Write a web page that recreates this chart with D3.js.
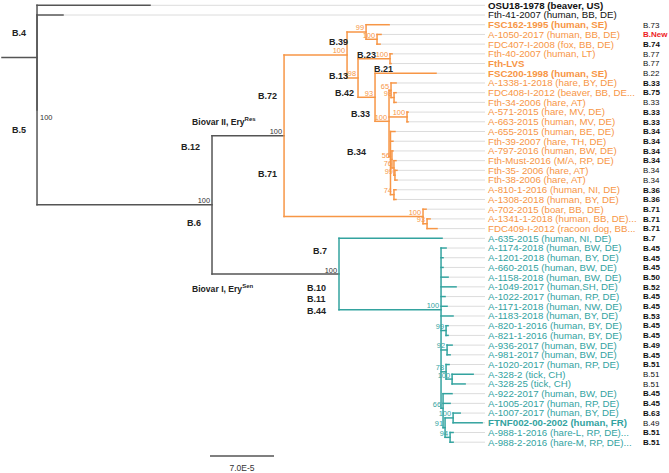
<!DOCTYPE html>
<html><head><meta charset="utf-8">
<script src="https://cdn.jsdelivr.net/npm/d3@7"></script>
<style>body{margin:0;background:#fff}svg{display:block;font-family:"Liberation Sans",Arial,sans-serif}</style>
</head><body><svg id="chart" width="669" height="473"></svg>
<script>
// ---------------- DATA ----------------
const leafNames = [
 "OSU18-1978 (beaver, US)","Fth-41-2007 (human, BB, DE)","FSC162-1995 (human, SE)","A-1050-2017  (human, BB, DE)",
 "FDC407-I-2008 (fox, BB, DE)","Fth-40-2007 (human, LT)","Fth-LVS","FSC200-1998 (human, SE)",
 "A-1338-1-2018 (hare, BY, DE)","FDC408-I-2012 (beaver, BB, DE...","Fth-34-2006 (hare, AT)","A-571-2015 (hare, MV, DE)",
 "A-663-2015 (human, MV, DE)","A-655-2015 (human, BE, DE)","Fth-39-2007 (hare, TH, DE)","A-797-2016 (human, BW, DE)",
 "Fth-Must-2016 (M/A, RP, DE)","Fth-35- 2006 (hare, AT)","Fth-38-2006 (hare, AT)","A-810-1-2016 (human, NI, DE)",
 "A-1308-2018 (human, BY, DE)","A-702-2015 (boar, BB, DE)","A-1341-1-2018 (human, BB, DE)...","FDC409-I-2012 (racoon dog, BB...",
 "A-635-2015 (human, NI, DE)","A-1174-2018 (human, BW, DE)","A-1201-2018 (human, BY, DE)","A-660-2015 (human, BW, DE)",
 "A-1158-2018 (human, BW, DE)","A-1049-2017 (human,SH, DE)","A-1022-2017 (human, RP, DE)","A-1171-2018 (human, NW, DE)",
 "A-1183-2018 (human, BY, DE)","A-820-1-2016 (human, BY, DE)","A-821-1-2016 (human, BY, DE)","A-936-2017 (human, BW, DE)",
 "A-981-2017 (human, BW, DE)","A-1020-2017 (human, RP, DE)","A-328-2 (tick, CH)","A-328-25 (tick, CH)",
 "A-922-2017 (human, BW, DE)","A-1005-2017 (human, RP, DE)","A-1007-2017 (human, BY, DE)","FTNF002-00-2002 (human, FR)",
 "A-988-1-2016 (hare-L, RP, DE)...","A-988-2-2016 (hare-M, RP, DE)..."
];
const boldNames = ["OSU18-1978 (beaver, US)","FSC162-1995 (human, SE)","Fth-LVS","FSC200-1998 (human, SE)","FTNF002-00-2002 (human, FR)"];
const leafTypes = ["","","B.73","B.New","B.74","B.77","B.77","B.22","B.33","B.75","B.33","B.33","B.33","B.34","B.34","B.34",
 "B.34","B.34","B.34","B.36","B.36","B.71","B.71","B.71","B.7","B.45","B.45","B.45","B.50","B.52","B.45","B.45",
 "B.53","B.45","B.45","B.49","B.45","B.51","B.51","B.51","B.45","B.45","B.63","B.49","B.51","B.51"];
const leafTypeBold = [0,0,0,1,1,0,0,0,1,1,0,1,1,1,1,1,1,0,0,1,1,1,1,1,1,1,1,1,1,1,1,1,1,1,1,1,1,1,0,0,1,1,1,0,1,1];
const newTypeLabel = "B.New";

// branch lengths in units of 1E-6 substitutions/site; [child, parent, length, bootstrap]
const edges = [
 ["N0","R",38.3,null],["L0","N0",123.6,null],["Nx","N0",0,100],["L1","Nx",28.4,null],["B6","Nx",191.4,100],
 ["BII","B6",78.8,100],
 ["B72","BII",68.9,100],["N99a","B72",20.8,99],["L2","N99a",25.2,null],["N100a","N99a",12.0,100],
 ["L3","N100a",4.4,null],["L4","N100a",3.3,null],
 ["N98a","B72",12.0,98],["B23","N98a",35.0,100],["L5","B23",2.2,null],["L6","B23",1.1,null],
 ["N93","N98a",18.6,93],["L7","N93",66.7,null],["B33","N93",15.3,100],
 ["N65","B33",2.2,65],["L8","N65",5.5,null],["N98b","N65",3.3,98],["L9","N98b",2.2,null],["L10","N98b",2.2,null],
 ["N100b","B33",19.7,100],["L11","N100b",1.1,null],["L12","N100b",1.1,null],
 ["B34","B33",1.6,null],["L13","B34",4.9,null],["L14","B34",2.7,null],
 ["N56","B34",1.6,56],["L15","N56",1.1,null],["N76","N56",2.2,76],["L16","N76",2.2,null],
 ["N99b","N76",1.1,99],["L17","N99b",2.2,null],["L18","N99b",2.2,null],
 ["N74","B34",3.8,74],["L19","N74",2.2,null],["L20","N74",2.2,null],
 ["B71","BII",152.0,100],["L21","B71",3.3,null],["N93b","B71",4.4,93],["L22","N93b",3.3,null],["L23","N93b",10.9,null],
 ["BI","B6",138.9,100],["L24","BI",112.7,null],["B45","BI",111.6,100],
 ["L25","B45",5.5,null],["L26","B45",2.2,null],["L27","B45",2.2,null],["L28","B45",7.7,null],
 ["L29","B45",16.4,null],["L30","B45",4.4,null],["L31","B45",6.6,null],["L32","B45",13.1,null],
 ["N99c","B45",5.5,99],["L33","N99c",2.2,null],["L34","N99c",2.2,null],
 ["N92","B45",6.6,92],["L35","N92",5.5,null],["L36","N92",3.3,null],
 ["N78","B45",5.5,78],["L37","N78",3.3,null],["N100c","N78",6.6,100],["L38","N100c",23.0,null],["L39","N100c",14.2,null],
 ["N66","B45",2.2,66],["L40","N66",9.8,null],["L41","N66",7.7,null],["N91","N66",2.2,91],
 ["N100d","N91",8.8,100],["L42","N100d",7.7,null],["L43","N100d",31.7,null],
 ["N94","N91",5.5,94],["L44","N94",3.3,null],["L45","N94",3.3,null]
];
// clade annotations: [text, node, superscript]
const cladeLabels = [
 ["B.4","N0",""],["B.5","N0",""],["B.12","B6",""],["Biovar II, Ery","BII","Res"],["B.72","BII",""],["B.71","BII",""],
 ["B.6","B6",""],["Biovar I, Ery","BI","Sen"],["B.7","BI",""],["B.10","BI",""],["B.11","BI",""],["B.44","BI",""],
 ["B.39","B72",""],["B.13","B72",""],["B.23","B23",""],["B.42","N93",""],["B.21","N93",""],["B.33","B33",""],["B.34","B34",""]
];
const scaleBarUnits = 70;        // 7.0E-5 = 70 x 1E-6
const scaleBarLabel = "7.0E-5";

// ---------------- LAYOUT ----------------
const labelOffsets = {
 "B.4":[-25,-22],"B.5":[-25,75],"B.12":[-31,-55],"Biovar II, Ery":[-92,-11],"B.72":[-26,-37],"B.71":[-26,41],
 "B.6":[-25,21],"Biovar I, Ery":[-147,17.5],"B.7":[-26,-20.5],"B.10":[-32,16.5],"B.11":[-32,27.5],"B.44":[-32,39.5],
 "B.39":[-18,-9.5],"B.13":[-18,24.5],"B.23":[-33,-1],"B.42":[-40,-1],"B.21":[-1,-25],"B.33":[-38,-4.8],"B.34":[-43.5,-1.2]
};
const COL = {grey:"#555555", orange:"#F79646", teal:"#33A39F", lead:"#dcdcdc"};
const svg = d3.select("#chart");
const x = d3.scaleLinear().domain([0, scaleBarUnits]).range([2, 66]);
const y = d3.scaleLinear().domain([0, leafNames.length - 1]).range([5.3, 442.2]);
const labelX = 488, typeX = 643, leadEnd = 485;

const table = [{id:"R", parent:null, len:0, sup:null}].concat(edges.map(e => ({id:e[0], parent:e[1], len:e[2], sup:e[3]})));
const root = d3.stratify().id(d => d.id).parentId(d => d.parent)(table);
root.eachBefore(n => { n.dist = n.parent ? n.parent.dist + n.data.len : 0; n.px = x(n.dist); });
root.eachAfter(n => {
  if (!n.children) { n.idx = +n.id.slice(1); n.py = y(n.idx); }
  else n.py = d3.mean(n.children, c => c.py);
});
const byId = new Map(root.descendants().map(n => [n.id, n]));
const colorOf = new Map();
root.descendants().forEach(n => colorOf.set(n, COL.grey));
byId.get("BII").descendants().forEach(n => colorOf.set(n, COL.orange));
byId.get("BI").descendants().forEach(n => colorOf.set(n, COL.teal));

const leaves = root.leaves();
// leader lines
svg.append("g").selectAll("line").data(leaves).join("line")
  .attr("x1", d => d.px).attr("x2", leadEnd).attr("y1", d => d.py).attr("y2", d => d.py)
  .attr("stroke", COL.lead).attr("stroke-width", 1);

const gTree = svg.append("g").attr("fill", "none").attr("stroke-width", 1.5).attr("stroke-linecap", "square");
// horizontal branches
gTree.selectAll("path.h").data(root.descendants().filter(n => n.parent && n.px > n.parent.px))
  .join("path").attr("class", "h")
  .attr("d", d => `M${d.parent.px},${d.py}H${d.px}`)
  .attr("stroke", d => colorOf.get(d.parent));
// vertical connectors
gTree.selectAll("path.v").data(root.descendants().filter(n => n.children && n.children.length > 1))
  .join("path").attr("class", "v")
  .attr("d", d => `M${d.px},${d.children[0].py}V${d.children[d.children.length - 1].py}`)
  .attr("stroke", d => colorOf.get(d));

// bootstrap support
const supNodes = root.descendants().filter(n => n.data.sup != null);
svg.append("g").attr("font-size", 7.4).selectAll("text").data(supNodes).join("text")
  .attr("x", d => d.data.len === 0 ? d.px + 3 : d.px - 2)
  .attr("y", d => d.data.len === 0 ? d.py + 10 : d.py - 1.5)
  .attr("text-anchor", d => d.data.len === 0 ? "start" : "end")
  .attr("fill", d => d.data.len === 0 ? "#333" : (colorOf.get(d.parent) === COL.grey ? "#333" : colorOf.get(d.parent)))
  .text(d => d.data.sup);

// leaf labels
svg.append("g").attr("font-size", 9.7).selectAll("text").data(leaves).join("text")
  .attr("x", labelX).attr("y", d => d.py).attr("dy", "0.35em")
  .attr("fill", d => colorOf.get(d) === COL.grey ? "#111" : colorOf.get(d))
  .attr("font-weight", d => boldNames.includes(leafNames[d.idx]) ? "bold" : "normal")
  .text(d => leafNames[d.idx]);

// subtype labels
svg.append("g").attr("font-size", 8).selectAll("text").data(leaves.filter(d => leafTypes[d.idx])).join("text")
  .attr("x", typeX).attr("y", d => d.py).attr("dy", "0.35em")
  .attr("fill", d => leafTypes[d.idx] === newTypeLabel ? "#ee1c25" : "#111")
  .attr("font-weight", d => leafTypeBold[d.idx] ? "bold" : "normal")
  .text(d => leafTypes[d.idx]);

// clade annotations
const ann = svg.append("g").attr("font-size", 9).attr("font-weight", "bold").attr("fill", "#222")
  .selectAll("text").data(cladeLabels).join("text")
  .attr("x", d => byId.get(d[1]).px + labelOffsets[d[0]][0])
  .attr("y", d => byId.get(d[1]).py + labelOffsets[d[0]][1])
  .attr("font-size", d => d[2] ? 8.6 : 9);
ann.append("tspan").text(d => d[0]);
ann.filter(d => d[2]).append("tspan").attr("dy", -3.5).attr("font-size", 6).text(d => d[2]);

// scale bar
const sbX = 210, sbY = 456;
const sbLen = x(scaleBarUnits) - x(0);
svg.append("line").attr("x1", sbX).attr("x2", sbX + sbLen).attr("y1", sbY).attr("y2", sbY)
  .attr("stroke", COL.grey).attr("stroke-width", 1.5);
svg.append("text").attr("x", sbX + sbLen / 2).attr("y", sbY + 15).attr("text-anchor", "middle")
  .attr("font-size", 8.5).attr("fill", "#333").text(scaleBarLabel);
</script>
</body></html>
